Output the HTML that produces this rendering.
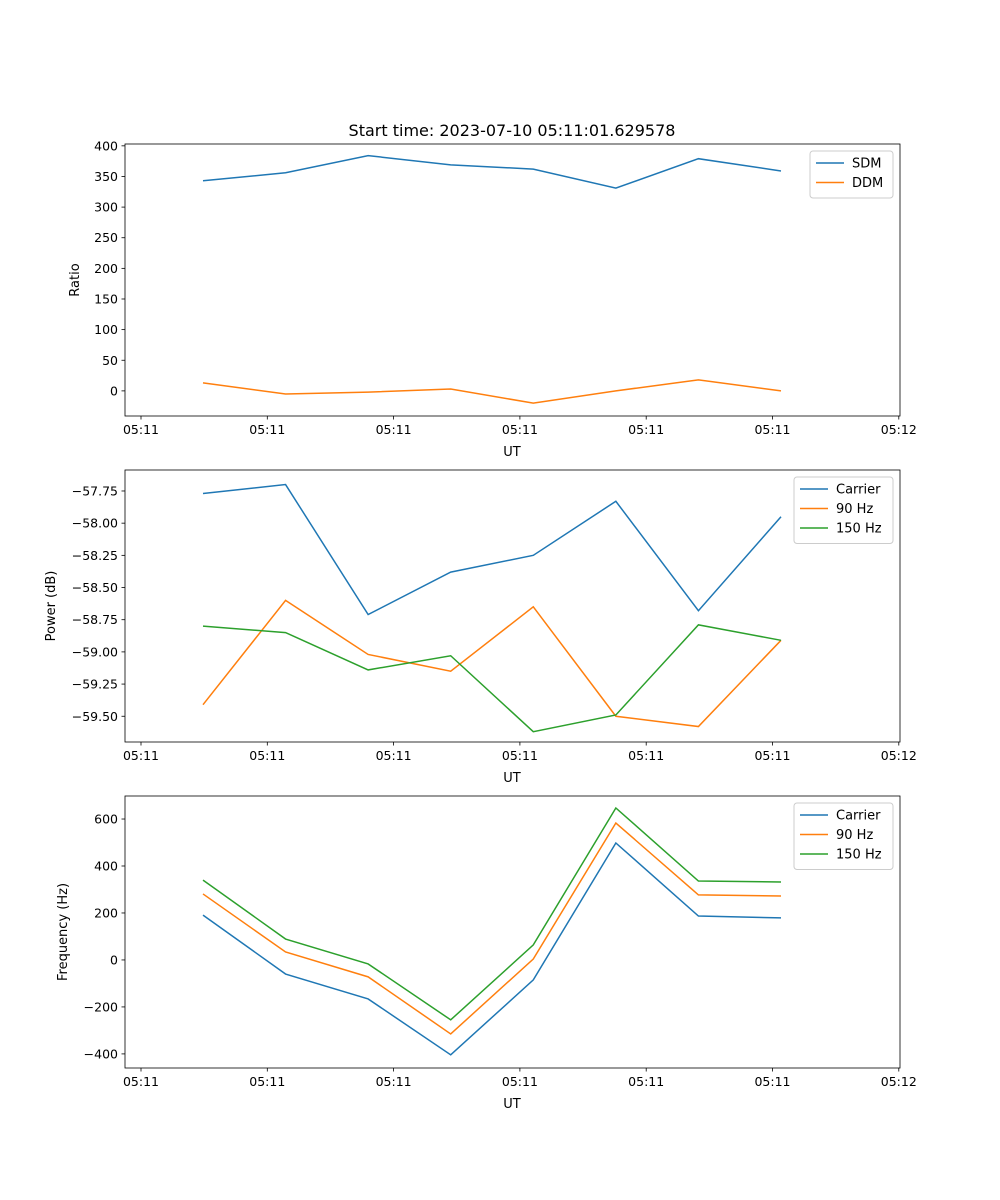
<!DOCTYPE html>
<html><head><meta charset="utf-8"><style>
body{margin:0;background:#fff;}
svg{display:block;font-family:"DejaVu Sans","Liberation Sans",sans-serif;}
</style></head><body>
<svg id="chart" width="1000" height="1200">
<text x="512" y="136" font-size="16" text-anchor="middle">Start time: 2023-07-10 05:11:01.629578</text>
</svg>
<script>
const xTickLabels = ["05:11","05:11","05:11","05:11","05:11","05:11","05:12"];
const sampleIndex = [0,1,2,3,4,5,6,7];
const sdm = [343,356,384,369,362,331,379,359];
const ddm = [13,-5,-2,3,-20,0,18,0];
const pCarrier = [-57.77,-57.70,-58.71,-58.38,-58.25,-57.83,-58.68,-57.95];
const p90 = [-59.41,-58.60,-59.02,-59.15,-58.65,-59.50,-59.58,-58.91];
const p150 = [-58.80,-58.85,-59.14,-59.03,-59.62,-59.49,-58.79,-58.91];
const fCarrier = [191,-60,-166,-404,-85,498,187,179];
const f90 = [281,34,-72,-315,4,583,277,272];
const f150 = [340,89,-17,-255,64,647,336,332];
const ticks1 = [0,50,100,150,200,250,300,350,400];
const ticks2 = [-59.5,-59.25,-59.0,-58.75,-58.5,-58.25,-58.0,-57.75];
const ticks3 = [-400,-200,0,200,400,600];

const NS="http://www.w3.org/2000/svg";
const svg=document.getElementById('chart');
const colors=["#1f77b4","#ff7f0e","#2ca02c"];
function mk(t,a,p){const e=document.createElementNS(NS,t);for(const k in a)e.setAttribute(k,a[k]);(p||svg).appendChild(e);return e;}
const L=125,R=900;
// x axis: tick i at position; sample index k maps linearly
const xTickPos=i=>141+i*126.3;
const xs=k=>203+k*82.57;

function panel(top,bot,yMin,yMax,ticks,fmt,series,names,ylabel,legW,pname){
  const g=mk('g',{});
  
  
  const ys=v=>bot-(v-yMin)/(yMax-yMin)*(bot-top);
  ticks.forEach(t=>{
    const y=ys(t);
    mk('line',{x1:L-3.5,x2:L,y1:y,y2:y,stroke:'#000','stroke-width':0.8},g);
    const tx=mk('text',{x:L-7,y:y+4.5,'font-size':12.5,'text-anchor':'end'},g);tx.textContent=fmt(t);
    
    
  });
  xTickLabels.forEach((lab,i)=>{
    const x=xTickPos(i);
    mk('line',{x1:x,x2:x,y1:bot,y2:bot+3.5,stroke:'#000','stroke-width':0.8},g);
    const tx=mk('text',{x:x,y:bot+18,'font-size':12.5,'text-anchor':'middle'},g);tx.textContent=lab;
    
    
  });
  const xl=mk('text',{x:512,y:bot+40,'font-size':13,'text-anchor':'middle'},g);xl.textContent='UT';
  
  
  const yl=mk('text',{x:0,y:0,'font-size':13,'text-anchor':'middle',transform:`translate(${ylabel[1]},${(top+bot)/2}) rotate(-90)`},g);yl.textContent=ylabel[0];
  
  
  series.forEach((s,j)=>{
    const pl=mk('polyline',{points:s.map((v,k)=>xs(sampleIndex[k])+','+ys(v)).join(' '),fill:'none',stroke:colors[j],'stroke-width':1.5},g);
    
    
  });
  mk('rect',{x:L,y:top,width:R-L,height:bot-top,fill:'none',stroke:'#000','stroke-width':0.8},g);
  const lx=R-7-legW, ly=top+7, lh=8+names.length*19.5;
  const lg=mk('g',{},g);
  
  
  mk('rect',{x:lx,y:ly,width:legW,height:lh,fill:'#fff',stroke:'#ccc',rx:3},lg);
  names.forEach((n,j)=>{
    const y=ly+12+j*19.5;
    mk('line',{x1:lx+6,x2:lx+34,y1:y,y2:y,stroke:colors[j],'stroke-width':1.5},lg);
    const t=mk('text',{x:lx+42,y:y+4.5,'font-size':13},lg);t.textContent=n;
    
    
  });
}
const f1=v=>String(v);
const f2=v=>'\u2212'+Math.abs(v).toFixed(2);
const f3=v=>v<0?'\u2212'+Math.abs(v):String(v);
panel(144,416,-41,403,ticks1,f1,[sdm,ddm],['SDM','DDM'],['Ratio',79],83,'ratio-panel');
panel(470,742,-59.70,-57.587,ticks2,f2,[pCarrier,p90,p150],['Carrier','90 Hz','150 Hz'],['Power (dB)',55],99,'power-panel');
panel(796,1068,-460,698,ticks3,f3,[fCarrier,f90,f150],['Carrier','90 Hz','150 Hz'],['Frequency (Hz)',67],99,'frequency-panel');
</script>
</body></html>
